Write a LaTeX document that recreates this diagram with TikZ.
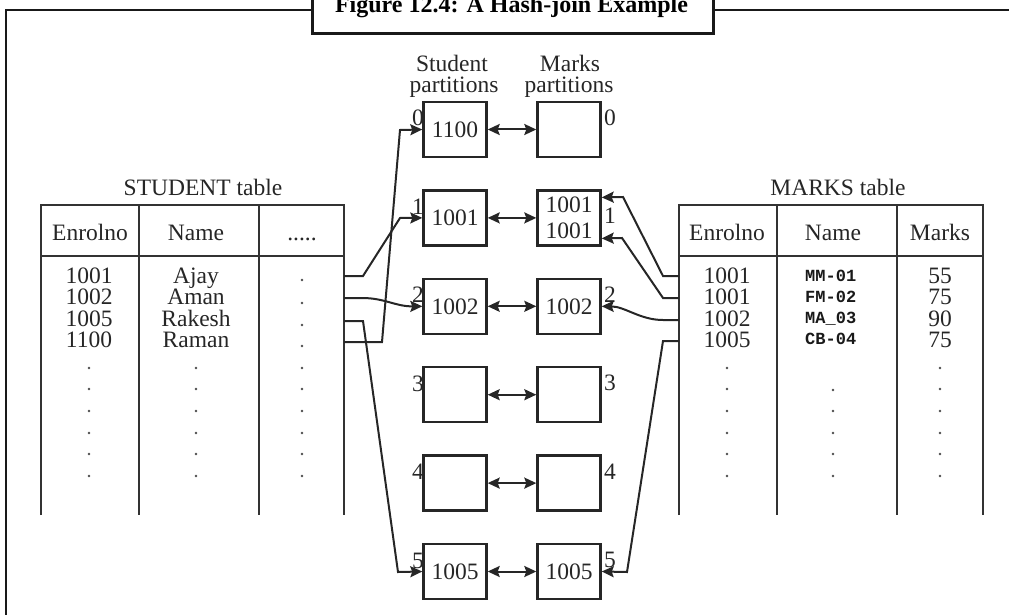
\documentclass[tikz,border=0pt]{standalone}
\usepackage{fontspec}
\setmainfont{Liberation Serif}
\newfontfamily\smallmono{Liberation Mono}
\usetikzlibrary{arrows.meta,calc}
\begin{document}
\begin{tikzpicture}[x=1pt,y=-1pt,
  tbl/.style={line width=2.2pt, draw=black!80},
  partbox/.style={draw=black!85, line width=2.4pt, minimum width=63pt, minimum height=55pt, inner sep=0pt, text=black!85, font=\fontsize{23.5}{26}\selectfont},
  txt/.style={font=\fontsize{23.5}{24}\selectfont, inner sep=0pt, anchor=base, text=black!85},
  smalltxt/.style={font=\smallmono\bfseries\fontsize{17}{18}\selectfont, inner sep=0pt, anchor=base west, text=black!90},
  dotmark/.style={fill=black!70, circle, inner sep=0pt, minimum size=2.6pt},
  arr/.style={-{Stealth[length=12pt,width=11pt,inset=2pt]}, line width=2pt, draw=black!85},
  dbl/.style={{Stealth[length=12pt,width=11pt,inset=2pt]}-{Stealth[length=12pt,width=11pt,inset=2pt]}, line width=2pt, draw=black!85},
]
\useasboundingbox (0,0) rectangle (1009,615);

% frame and title
\draw[line width=2.8pt, draw=black!90] (6,616) -- (6,10) -- (1010,10);
\draw[line width=3pt, draw=black!90, fill=white] (312,-6) rectangle (713,34);
\node[font=\bfseries\fontsize{24}{26}\selectfont, anchor=base, inner sep=0pt] (title) at (511.5,13) {Figure 12.4: A Hash-join Example};

% STUDENT table
\node[txt] (stlabel) at (203,195) {STUDENT table};
\draw[tbl] (41,515) -- (41,205) -- (344,205) -- (344,515);
\draw[tbl] (139,205) -- (139,515);
\draw[tbl] (259,205) -- (259,515);
\draw[tbl] (41,256) -- (344,256);
\node[txt] (sh1) at (90,240) {Enrolno};
\node[txt] (sh2) at (196,240) {Name};
\node[txt] (sh3) at (302,240) {.....};
\foreach \v/\n [count=\k] in {1001/Ajay,1002/Aman,1005/Rakesh,1100/Raman}{
  \node[txt] (se\k) at (89,261.5+21.5*\k) {\v};
  \node[txt] (sn\k) at (196,261.5+21.5*\k) {\n};
}
\foreach \y [count=\k] in {280,303,325,346}{
  \node[dotmark] (sdx\k) at (302,\y) {};
}
\foreach \y [count=\k] in {368,389,411,433,454,476}{
  \node[dotmark] (sda\k) at (89,\y) {};
  \node[dotmark] (sdb\k) at (196,\y) {};
  \node[dotmark] (sdc\k) at (302,\y) {};
}

% MARKS table
\node[txt] (mtlabel) at (838,195) {MARKS table};
\draw[tbl] (679,515) -- (679,205) -- (983,205) -- (983,515);
\draw[tbl] (777,205) -- (777,515);
\draw[tbl] (897,205) -- (897,515);
\draw[tbl] (679,256) -- (983,256);
\node[txt] (mh1) at (727,240) {Enrolno};
\node[txt] (mh2) at (833,240) {Name};
\node[txt] (mh3) at (940,240) {Marks};
\foreach \v/\c/\m [count=\k] in {1001/MM-01/55,1001/FM-02/75,1002/MA\_03/90,1005/CB-04/75}{
  \node[txt] (me\k) at (727,261.5+21.5*\k) {\v};
  \node[smalltxt] (mn\k) at (805,260+21*\k) {\c};
  \node[txt] (mm\k) at (940,261.5+21.5*\k) {\m};
}
\foreach \y [count=\k] in {368,389,411,433,454,476}{
  \node[dotmark] (mda\k) at (727,\y) {};
  \node[dotmark] (mdc\k) at (940,\y) {};
}
\foreach \y [count=\k] in {390,411,433,454,476}{
  \node[dotmark] (mdb\k) at (833,\y) {};
}

% partitions
\node[txt] (sp1) at (452,71.5) {Student};
\node[txt] (sp2) at (454,93) {partitions};
\node[txt] (mp1) at (570,71.5) {Marks};
\node[txt] (mp2) at (569,93) {partitions};

\foreach \i/\st/\mt in {0/1100/,1/1001/,2/1002/1002,3//,4//,5/1005/1005}{
  \pgfmathsetmacro{\yc}{129.5+88.4*\i}
  \node[partbox] (s\i) at (455,\yc) {\st};
  \node[partbox] (m\i) at (569,\yc) {\mt};
  \node[txt, anchor=base east] (sl\i) at (424,\yc-3.5) {\i};
  \draw[dbl] (s\i.east) -- (m\i.west);
}
\node[txt, align=center, font=\fontsize{23.5}{26}\selectfont, anchor=center] (m1txt) at (569,217.5) {1001\\1001};
\foreach \i in {0,2,3,4,5}{
  \pgfmathsetmacro{\yc}{129.5+88.4*\i}
  \node[txt, anchor=base west] (ml\i) at (604,\yc-4) {\i};
}
\node[txt, anchor=base west] (ml1) at (604,223) {1};

% connectors from STUDENT table
\coordinate (st1) at (344,276);
\coordinate (st2) at (344,298);
\coordinate (st3) at (344,321);
\coordinate (st4) at (344,342);
\draw[arr] (st1) -- (363,276) -- (400,218) -- (s1.west);
\draw[arr] (st2) -- (362,298) .. controls (385,298) and (395,306.5) .. (s2.west);
\draw[arr] (st3) -- (363,321) -- (398,572) -- (s5.west);
\draw[arr] (st4) -- (382,342) -- (400,130) -- (s0.west);

% connectors from MARKS table
\coordinate (mt1) at (679,276);
\coordinate (mt2) at (679,298);
\coordinate (mt3) at (679,320);
\coordinate (mt4) at (679,341);
\draw[arr] (mt1) -- (663,276) -- (623,197) -- ($(m1.east)+(0,-20.5)$);
\draw[arr] (mt2) -- (663,298) -- (622,238) -- ($(m1.east)+(0,20.5)$);
\draw[arr] (mt3) -- (663,320) .. controls (640,320) and (625,306.5) .. (m2.east);
\draw[arr] (mt4) -- (663,341) -- (627,572) -- (m5.east);
\end{tikzpicture}
\end{document}
